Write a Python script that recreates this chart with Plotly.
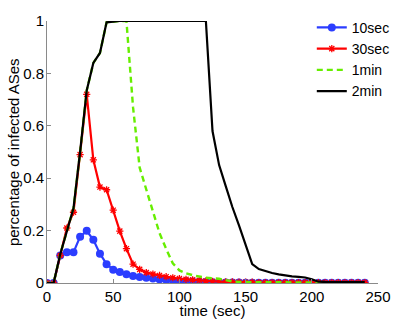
import plotly.graph_objects as go

t = list(range(0, 245, 5))

s10 = [0, 0, 0.105, 0.117, 0.117, 0.177, 0.199, 0.165, 0.112, 0.072,
       0.051, 0.042, 0.033, 0.027, 0.023, 0.02, 0.017, 0.014, 0.012, 0.01,
       0.008, 0.007, 0.006, 0.005, 0.004, 0.003, 0.003, 0.002, 0.002, 0.002,
       0.001, 0.001, 0.001, 0.001, 0.001, 0.001, 0.001, 0.001, 0.001, 0.001,
       0.001, 0.001, 0.001, 0.001, 0.001, 0.001, 0.001, 0.001, 0.001]

s30 = [0, 0, 0.105, 0.21, 0.27, 0.49, 0.72, 0.47, 0.366, 0.356,
       0.278, 0.198, 0.131, 0.072, 0.052, 0.04, 0.034, 0.029, 0.024, 0.02,
       0.017, 0.014, 0.012, 0.01, 0.008, 0.006, 0.005, 0.004, 0.004, 0.003,
       0.003, 0.003, 0.002, 0.002, 0.002, 0.002, 0.002, 0.002, 0.002, 0.002,
       0.002, 0.002, 0.002, 0.002, 0.002, 0.002, 0.002, 0.002, 0.002]

s1m = [0, 0, 0.11, 0.2, 0.285, 0.5, 0.735, 0.84, 0.878, 0.995,
       0.998, 1.0, 1.0, 0.67, 0.44, 0.355, 0.27, 0.19, 0.13, 0.075,
       0.048, 0.037, 0.03, 0.024, 0.02, 0.018, 0.016, 0.011, 0.006, 0.004,
       0.003, 0.003, 0.003, 0.003, 0.003, 0.003, 0.003, 0.003, 0.003, 0.003,
       0.002, 0.001, 0.001, 0.001, 0.001, 0.001, 0.001, 0.001, 0.001]

s2m = [0, 0, 0.11, 0.2, 0.285, 0.5, 0.735, 0.84, 0.878, 0.995,
       0.998, 1.0, 1.0, 1.0, 1.0, 1.0, 1.0, 1.0, 1.0, 1.0,
       1.0, 1.0, 1.0, 1.0, 1.0, 0.58, 0.45, 0.37, 0.29, 0.22,
       0.15, 0.072, 0.053, 0.045, 0.038, 0.033, 0.028, 0.025, 0.023, 0.021,
       0.014, 0.005, 0.004, 0.004, 0.004, 0.004, 0.003, 0.003, 0.003]

names = ["10sec", "30sec", "1min", "2min"]
xticks = [0, 50, 100, 150, 200, 250]
yticks = [0, 0.2, 0.4, 0.6, 0.8, 1]
yticktext = ["0", "0.2", "0.4", "0.6", "0.8", "1"]

FONT = "Liberation Sans, Arial, Helvetica, sans-serif"

fig = go.Figure()
fig.add_trace(go.Scatter(x=t, y=s10, name=names[0], mode="lines+markers",
                         line=dict(color="#2b3dff", width=2.2),
                         marker=dict(symbol="circle", size=8, color="#2b3dff")))
fig.add_trace(go.Scatter(x=t, y=s30, name=names[1], mode="lines+markers",
                         line=dict(color="#ff0000", width=2.2),
                         marker=dict(symbol="asterisk-open", size=6,
                                     line=dict(color="#ff0000", width=1.3))))
fig.add_trace(go.Scatter(x=t, y=s1m, name=names[2], mode="lines",
                         line=dict(color="#66ee00", width=2.4, dash="6px,4px")))
fig.add_trace(go.Scatter(x=t, y=s2m, name=names[3], mode="lines",
                         line=dict(color="#000000", width=2.2)))

axis_common = dict(showgrid=False, zeroline=False, showline=True,
                   linecolor="#8a8a8a", linewidth=1, ticks="inside",
                   ticklen=4, tickcolor="#8a8a8a", automargin=False,
                   tickfont=dict(family=FONT, size=15, color="black"))

fig.update_layout(
    width=407, height=319,
    margin=dict(l=47, r=16, t=12, b=36),
    plot_bgcolor="white", paper_bgcolor="white",
    font=dict(family=FONT, size=15, color="black"),
    xaxis=dict(range=[0, 250], tickvals=xticks,
               title=dict(text="time (sec)", standoff=0, font=dict(size=15)),
               **axis_common),
    yaxis=dict(range=[0, 1], tickvals=yticks, ticktext=yticktext,
               ticklabelstandoff=-1, **axis_common),
    legend=dict(x=0.8, y=1.035, xanchor="left", yanchor="top",
                bgcolor="rgba(0,0,0,0)", borderwidth=0,
                font=dict(size=14), tracegroupgap=0, itemwidth=30),
    showlegend=True,
    annotations=[dict(text="percentage of infected ASes", xref="paper",
                      yref="paper", x=-0.1017, y=0.501, xanchor="center",
                      yanchor="middle", textangle=-90, showarrow=False,
                      font=dict(family=FONT, size=15, color="black"))],
)

fig.write_html("out.html", config={"displayModeBar": False},
               post_script="document.body.style.margin='0';")
